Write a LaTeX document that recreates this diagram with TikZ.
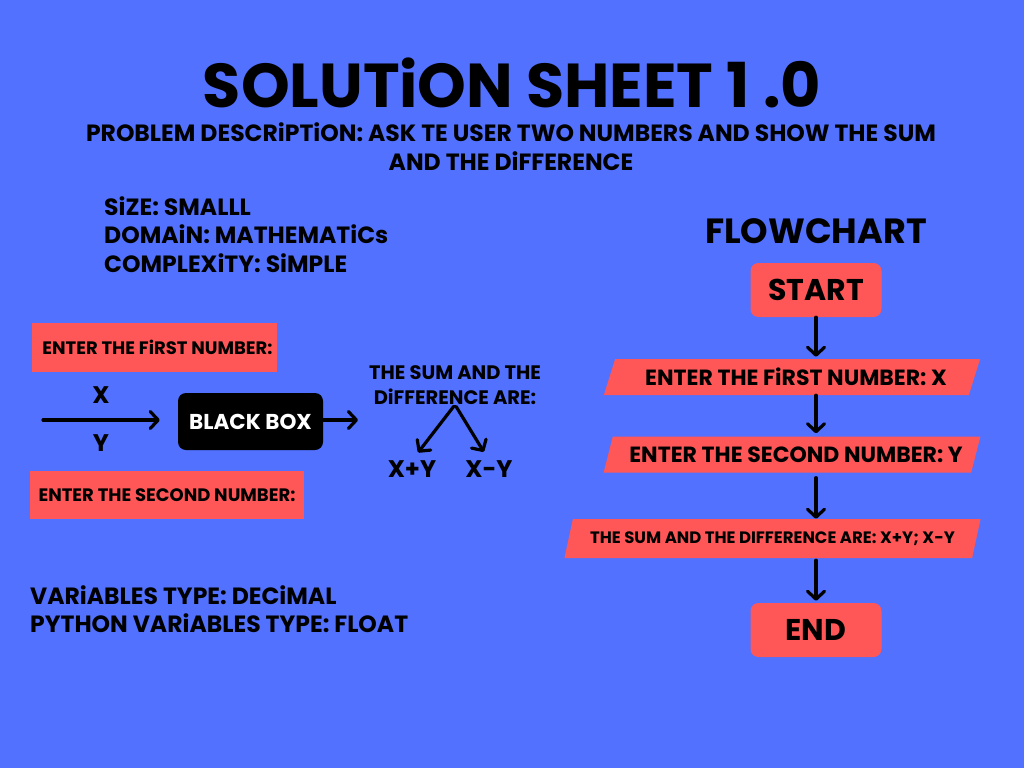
\documentclass[tikz,border=0pt]{standalone}
\usepackage{fontspec}
\setmainfont{Poppins}
\usetikzlibrary{arrows.meta,positioning,shapes.geometric}
\definecolor{shbg}{RGB}{82,113,255}
\definecolor{shred}{RGB}{255,87,87}
\tikzset{
  txt/.style={font=\bfseries, inner sep=0pt, text=black, align=center},
  info/.style={txt, anchor=west, font=\bfseries\fontsize{23.5}{25}\selectfont},
  redbox/.style={fill=shred, inner sep=0pt, font=\bfseries\fontsize{18}{20}\selectfont},
  term/.style={fill=shred, rounded corners=8pt, minimum width=131pt, minimum height=54pt,
    inner sep=0pt, font=\bfseries\fontsize{30}{32}\selectfont},
  io/.style={trapezium, trapezium left angle=61, trapezium right angle=119,
    trapezium stretches=true, fill=shred, inner sep=0pt, minimum width=378pt,
    minimum height=36pt, font=\bfseries\fontsize{22}{24}\selectfont},
  arr/.style={-{Straight Barb[round,length=8pt,width=17pt]}, draw=black,
    line width=3.2pt, line cap=round},
}
\begin{document}
\begin{tikzpicture}[x=1pt,y=-1pt]
  \fill[shbg] (0,0) rectangle (1024,768);
  \useasboundingbox (0,0) rectangle (1024,768);

  % Heading
  \node[txt, font=\bfseries\fontsize{62}{66}\selectfont] (title) at (512,83) {SOLUTiON SHEET 1 .0};
  \node[txt, font=\bfseries\fontsize{23.5}{29}\selectfont] (desc) at (511,147)
    {PROBLEM DESCRiPTiON: ASK TE USER TWO NUMBERS AND SHOW THE SUM\\AND THE DiFFERENCE};

  \node[info] (size) at (104,206) {SiZE: SMALLL};
  \node[info] (dom) at (104,234) {DOMAiN: MATHEMATiCs};
  \node[info] (cplx) at (104,263) {COMPLEXiTY: SiMPLE};

  % Black box sketch
  \node[redbox, minimum width=245pt, minimum height=49pt] (first) at (154.5,347.5) {\hspace{6pt}ENTER THE FiRST NUMBER:};
  \node[redbox, minimum width=274pt, minimum height=48pt] (second) at (167,495) {ENTER THE SECOND NUMBER:};
  \node[txt, font=\bfseries\fontsize{24}{26}\selectfont] (xin) at (101,395) {X};
  \node[txt, font=\bfseries\fontsize{24}{26}\selectfont] (yin) at (101,443) {Y};
  \coordinate (feed) at (43,420);
  \node[fill=black, text=white, rounded corners=8pt, minimum width=145pt, minimum height=57pt,
    inner sep=0pt, font=\bfseries\fontsize{21.5}{23}\selectfont] (bb) at (250.5,421.5) {BLACK BOX};
  \coordinate (bbout) at (358,420);
  \node[txt, font=\bfseries\fontsize{19.5}{25}\selectfont] (sumtxt) at (455,385) {THE SUM AND THE\\DiFFERENCE ARE:};
  \node[txt, font=\bfseries\fontsize{24}{26}\selectfont] (plus) at (412,469) {X+Y};
  \node[txt, font=\bfseries\fontsize{24}{26}\selectfont] (minus) at (489,469) {X-Y};

  \draw[arr, shorten >=18pt] (feed) -- (bb.west |- feed);
  \draw[arr] (bb.east |- bbout) -- (bbout);
  \draw[arr, shorten <=2pt, shorten >=10pt] (sumtxt.south) -- (plus.north);
  \draw[arr, shorten <=2pt, shorten >=10pt] (sumtxt.south) -- (minus.north);

  \node[info] (vtype) at (30,595) {VARiABLES TYPE: DECiMAL};
  \node[info] (ptype) at (30,623) {PYTHON VARiABLES TYPE: FLOAT};

  % Flowchart
  \node[txt, font=\bfseries\fontsize{35}{38}\selectfont] (fc) at (816,231) {FLOWCHART};
  \node[term] (start) at (816,290) {START};
  \node[io] (in1) at (792,377) {\hspace{8pt}ENTER THE FiRST NUMBER: X};
  \node[io] (in2) at (792,454.5) {\hspace{8pt}ENTER THE SECOND NUMBER: Y};
  \node[io, minimum width=417pt, minimum height=39pt, font=\bfseries\fontsize{16.5}{18}\selectfont]
    (out) at (772.5,538.5) {THE SUM AND THE DIFFERENCE ARE: X+Y; X-Y};
  \node[term] (end) at (816,630) {END};

  \draw[arr, shorten >=2pt] (start.south) -- (start.south |- in1.north);
  \draw[arr, shorten >=3pt] (start.south |- in1.south) -- (start.south |- in2.north);
  \draw[arr, shorten <=5pt] (start.south |- in2.south) -- (start.south |- out.north);
  \draw[arr, shorten <=2pt, shorten >=2pt] (start.south |- out.south) -- (end.north);
\end{tikzpicture}
\end{document}
